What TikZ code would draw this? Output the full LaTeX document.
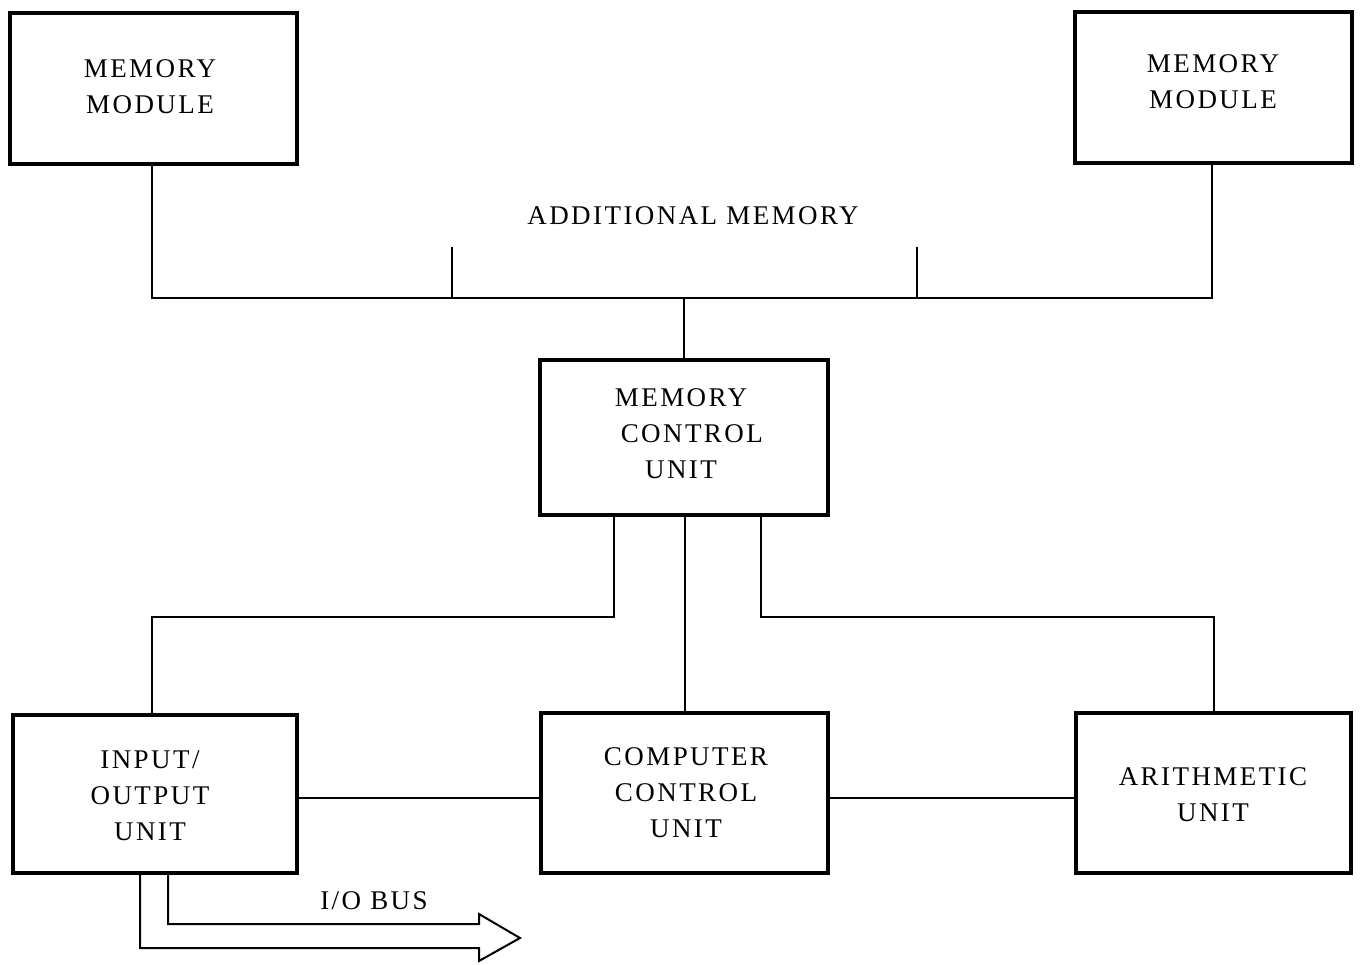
\documentclass[tikz,border=0pt]{standalone}
\usepackage{fontspec}
\setmainfont{Liberation Serif}[LetterSpace=9]
\begin{document}
\begin{tikzpicture}[x=1pt,y=-1pt,
  blk/.style={draw,line width=4pt,inner sep=0pt},
  lbl/.style={font=\fontsize{27}{36}\selectfont,align=center},
  wire/.style={line width=2pt}]
\useasboundingbox (0,0) rectangle (1362,964);
% boxes
\node[blk,minimum width=287pt,minimum height=151pt] (mm1) at (153.5,88.5) {};
\node[lbl] (t1) at (150,87) {MEMORY\\MODULE};
\node[blk,minimum width=277pt,minimum height=151pt] (mm2) at (1213.5,87.5) {};
\node[lbl] (t2) at (1213,82) {MEMORY\\MODULE};
\node[blk,minimum width=288pt,minimum height=155pt] (mcu) at (684,437.5) {};
\node[lbl] (t3) at (681,434) {MEMORY\\\hspace*{0.8em}CONTROL\\UNIT};
\node[blk,minimum width=284pt,minimum height=158pt] (io) at (155,794) {};
\node[lbl] (t4) at (150,796) {INPUT/\\OUTPUT\\UNIT};
\node[blk,minimum width=287pt,minimum height=160pt] (ccu) at (684.5,793) {};
\node[lbl] (t5) at (686,793) {COMPUTER\\CONTROL\\UNIT};
\node[blk,minimum width=275pt,minimum height=160pt] (au) at (1213.5,793) {};
\node[lbl] (t6) at (1213,795) {ARITHMETIC\\UNIT};
\node[lbl] (am) at (693,216) {ADDITIONAL MEMORY};
\node[lbl] (bus) at (374,901) {I/O BUS};
% coordinates
\coordinate (bl) at (152,298);
\coordinate (br) at (1212,298);
\coordinate (k1) at (452,247);
\coordinate (k2) at (917,247);
\coordinate (bm) at (684,298);
% memory bus
\draw[wire] (mm1.south -| bl) -- (bl) -- (br) -- (mm2.south -| br);
\draw[wire] (k1) -- (k1 |- bl);
\draw[wire] (k2) -- (k2 |- bl);
\draw[wire] (bm) -- (mcu.north -| bm);
% mcu to lower units
\coordinate (a1) at (614,617);
\coordinate (a0) at (152,617);
\coordinate (a2) at (761,617);
\coordinate (a3) at (1214,617);
\coordinate (mid) at (685,600);
\draw[wire] (mcu.south -| a1) -- (a1) -- (a0) -- (io.north -| a0);
\draw[wire] (mcu.south -| mid) -- (ccu.north -| mid);
\draw[wire] (mcu.south -| a2) -- (a2) -- (a3) -- (au.north -| a3);
% horizontal links
\draw[wire] (io.east |- 0,798) -- (ccu.west |- 0,798);
\draw[wire] (ccu.east |- 0,798) -- (au.west |- 0,798);
% I/O bus arrow
\coordinate (p1) at (140,873);
\coordinate (p2) at (168,873);
\draw[wire] (p2) -- (168,924) -- (479,924) -- (479,914) -- (520,938) -- (479,961) -- (479,948) -- (140,948) -- (p1);
\end{tikzpicture}
\end{document}
